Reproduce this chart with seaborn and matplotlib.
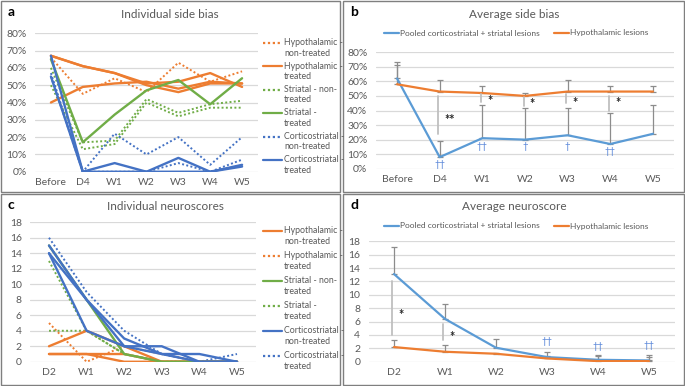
import matplotlib
matplotlib.use("Agg")
import matplotlib.pyplot as plt
from matplotlib.lines import Line2D
from matplotlib.patches import Rectangle
import seaborn as sns
import numpy as np

sns.set_style("white")
plt.rcParams['font.family'] = ['Lato', 'DejaVu Sans']

ORANGE = '#ED7D31'
GREEN = '#70AD47'
BLUE = '#4472C4'
LBLUE = '#5B9BD5'
GRID = '#D9D9D9'
TXT = '#595959'
DOT = (0, (1, 1.2))

# ---- data -------------------------------------------------------------
bias_days = ['Before', 'D4', 'W1', 'W2', 'W3', 'W4', 'W5']
hyp_nt_bias = [[66, 45, 54, 46, 63, 52, 58]]
hyp_t_bias = [[67, 61, 57, 50, 46, 51, 51],
              [40, 49, 51, 52, 48, 52, 51],
              [67, 61, 57, 51, 52, 57, 49]]
str_nt_bias = [[60, 17, 18, 42, 34, 39, 41],
               [50, 13, 16, 40, 32, 37, 37]]
str_t_bias = [[65, 17, 33, 47, 53, 39, 54]]
cs_nt_bias = [[57, 0, 22, 10, 20, 4, 20],
              [55, 0, 0, 0, 5, 0, 7]]
cs_t_bias = [[67, 0, 5, 0, 8, 0, 4],
             [55, 0, 0, 0, 0, 0, 3]]

pooled_bias = [62, 8, 21, 20, 23, 17, 24]
pooled_bias_top = [73, 19, 44, 42, 42, 38, 44]
hyp_bias = [58, 53, 52, 50, 53, 53, 53]
hyp_bias_top = [71, 61, 57, 52, 61, 57, 57]
bias_sig = {'D4': (24, 50, '**', 35), 'W1': (46, 51, '*', 48),
            'W2': (43, 49, '*', 46), 'W3': (45, 51, '*', 47),
            'W4': (40, 50, '*', 47)}
bias_dagger = {'D4': ('††', 3), 'W1': ('††', 15), 'W2': ('†', 15),
               'W3': ('†', 15), 'W4': ('††', 12)}

neuro_days = ['D2', 'W1', 'W2', 'W3', 'W4', 'W5']
hyp_nt_neuro = [[2, 4, 2, 0, 0, 0],
                [1, 1, 1, 0, 0, 0],
                [1, 1, 0, 0, 0, 0]]
hyp_t_neuro = [[5, 0, 2, 1, 0, 0]]
str_nt_neuro = [[15, 8, 1, 0, 0, 0]]
str_t_neuro = [[13, 4, 1, 0, 0, 0],
               [4, 4, 1, 0, 0, 0]]
cs_nt_neuro = [[15, 8, 3, 1, 0, 0],
               [14, 4, 2, 2, 0, 0],
               [14, 8, 2, 1, 1, 0]]
cs_t_neuro = [[16, 9, 4, 1, 0, 1]]

pooled_neuro = [13.1, 6.4, 2.1, 0.7, 0.3, 0.2]
pooled_neuro_top = [17.2, 8.7, 3.4, 1.5, 1.0, 1.0]
hyp_neuro = [2.2, 1.5, 1.2, 0.5, 0.1, 0.1]
hyp_neuro_top = [3.2, 2.5, 1.3, 0.9, 0.8, 0.7]
neuro_sig = {'D2': (4, 12, '*', 7.3), 'W1': (3.2, 5.6, '*', 4.1)}
neuro_dagger = {'W3': ('††', 3.0), 'W4': ('††', 2.3), 'W5': ('††', 2.4)}

W, H = 685, 386
fig = plt.figure(figsize=(W / 100, H / 100), dpi=100)


def px_axes(left, right, top, bottom):
    return fig.add_axes([left / W, 1 - bottom / H, (right - left) / W, (bottom - top) / H])


def style(ax, labels, ymax, step, pct):
    n = len(labels)
    ax.set_xlim(-0.5, n - 0.5)
    ax.set_ylim(-0.15 * step / 10, ymax + 0.15 * step / 10)
    ticks = np.arange(0, ymax + step / 2, step)
    ax.set_yticks(ticks)
    ax.set_yticklabels([f'{int(t)}%' if pct else f'{int(t)}' for t in ticks])
    ax.set_xticks(range(n))
    ax.set_xticklabels(labels)
    ax.grid(axis='y', color=GRID, lw=0.9)
    ax.grid(axis='x', visible=False)
    ax.set_axisbelow(True)
    for s in ax.spines.values():
        s.set_visible(False)
    ax.tick_params(length=0, colors=TXT, labelsize=7.5, pad=4)
    ax.tick_params(axis='y', pad=6)


def draw_groups(ax, days, groups):
    x = np.arange(len(days))
    for series, color, ls in groups:
        for vals in series:
            sns.lineplot(x=x, y=vals, ax=ax, color=color, lw=1.7 if ls == '-' else 1.4,
                         linestyle=ls, legend=False)


def side_legend(entries, x0, y0, dy):
    for i, (label, color, ls) in enumerate(entries):
        y = y0 + i * dy
        fig.add_artist(Line2D([x0 / W, (x0 + 19) / W], [1 - y / H, 1 - y / H],
                              color=color, lw=1.6, linestyle=ls))
        fig.text((x0 + 21) / W, 1 - (y + 5) / H, label, fontsize=6.3, color=TXT,
                 va='center', ha='left', linespacing=1.2)


def top_legend(ax_y, items):
    for x0, label, color in items:
        fig.add_artist(Line2D([x0 / W, (x0 + 15) / W], [1 - ax_y / H, 1 - ax_y / H],
                              color=color, lw=1.6))
        fig.text((x0 + 16) / W, 1 - ax_y / H, label, fontsize=6.0, color=TXT,
                 va='center', ha='left')


def annotate(ax, days, sig, dagger, dag_color):
    for d, (lo, hi, star, sy) in sig.items():
        i = days.index(d)
        ax.plot([i - 0.03, i - 0.03], [lo, hi], color='#BFBFBF', lw=1.3)
        ax.annotate(star, (i, sy), xytext=(3.5, -4.5), textcoords='offset points',
                    fontsize=9, fontweight='bold', color='#262626', ha='left', va='baseline')
    for d, (sym, sy) in dagger.items():
        i = days.index(d)
        ax.text(i, sy, sym, fontsize=7, color=dag_color, ha='center', va='center')


# ---- panel a ----------------------------------------------------------
ax_a = px_axes(35, 258, 33, 172)
draw_groups(ax_a, bias_days, [
    (hyp_nt_bias, ORANGE, DOT), (str_nt_bias, GREEN, DOT), (cs_nt_bias, BLUE, DOT),
    (hyp_t_bias, ORANGE, '-'), (str_t_bias, GREEN, '-'), (cs_t_bias, BLUE, '-')])
style(ax_a, bias_days, 80, 10, True)
side_legend([('Hypothalamic -\nnon-treated', ORANGE, DOT),
             ('Hypothalamic -\ntreated', ORANGE, '-'),
             ('Striatal - non-\ntreated', GREEN, DOT),
             ('Striatal -\ntreated', GREEN, '-'),
             ('Corticostriatal -\nnon-treated', BLUE, DOT),
             ('Corticostriatal -\ntreated', BLUE, '-')], 263, 43, 23.4)

# ---- panel b ----------------------------------------------------------
ax_b = px_axes(375.7, 674.3, 52, 169)
xb = np.arange(len(bias_days))
ax_b.errorbar(xb, pooled_bias, yerr=[np.zeros(len(xb)), np.subtract(pooled_bias_top, pooled_bias)],
              fmt='none', ecolor='#8C8C8C', elinewidth=0.9, capsize=2.5, capthick=0.9)
ax_b.errorbar(xb, hyp_bias, yerr=[np.zeros(len(xb)), np.subtract(hyp_bias_top, hyp_bias)],
              fmt='none', ecolor='#8C8C8C', elinewidth=0.9, capsize=2.5, capthick=0.9)
sns.lineplot(x=xb, y=pooled_bias, ax=ax_b, color=LBLUE, lw=1.6)
sns.lineplot(x=xb, y=hyp_bias, ax=ax_b, color=ORANGE, lw=1.6)
annotate(ax_b, bias_days, bias_sig, bias_dagger, '#4F7FD6')
style(ax_b, bias_days, 80, 10, True)
top_legend(33, [(384, 'Pooled corticostriatal + striatal lesions', LBLUE),
                (554, 'Hypothalamic lesions', ORANGE)])

# ---- panel c ----------------------------------------------------------
ax_c = px_axes(30.2, 255.8, 222, 362)
draw_groups(ax_c, neuro_days, [
    (hyp_t_neuro, ORANGE, DOT), (str_t_neuro, GREEN, DOT), (cs_t_neuro, BLUE, DOT),
    (hyp_nt_neuro, ORANGE, '-'), (str_nt_neuro, GREEN, '-'), (cs_nt_neuro, BLUE, '-')])
style(ax_c, neuro_days, 18, 2, False)
side_legend([('Hypothalamic -\nnon-treated', ORANGE, '-'),
             ('Hypothalamic -\ntreated', ORANGE, DOT),
             ('Striatal - non-\ntreated', GREEN, '-'),
             ('Striatal -\ntreated', GREEN, DOT),
             ('Corticostriatal -\nnon-treated', BLUE, '-'),
             ('Corticostriatal -\ntreated', BLUE, DOT)], 263, 231, 25)

# ---- panel d ----------------------------------------------------------
ax_d = px_axes(368.5, 674.5, 241, 362)
xd = np.arange(len(neuro_days))
ax_d.errorbar(xd, pooled_neuro, yerr=[np.zeros(len(xd)), np.subtract(pooled_neuro_top, pooled_neuro)],
              fmt='none', ecolor='#8C8C8C', elinewidth=0.9, capsize=2.5, capthick=0.9)
ax_d.errorbar(xd, hyp_neuro, yerr=[np.zeros(len(xd)), np.subtract(hyp_neuro_top, hyp_neuro)],
              fmt='none', ecolor='#8C8C8C', elinewidth=0.9, capsize=2.5, capthick=0.9)
sns.lineplot(x=xd, y=pooled_neuro, ax=ax_d, color=LBLUE, lw=1.6)
sns.lineplot(x=xd, y=hyp_neuro, ax=ax_d, color=ORANGE, lw=1.6)
annotate(ax_d, neuro_days, neuro_sig, neuro_dagger, '#4F7FD6')
style(ax_d, neuro_days, 18, 2, False)
top_legend(226, [(384, 'Pooled corticostriatal + striatal lesions', LBLUE),
                 (554, 'Hypothalamic lesions', ORANGE)])

# ---- titles, letters, frames -------------------------------------------
for cx, cy, title in [(170, 15, 'Individual side bias'), (514, 15, 'Average side bias'),
                      (165, 206, 'Individual neuroscores'), (514, 206, 'Average neuroscore')]:
    fig.text(cx / W, 1 - cy / H, title, fontsize=8.5, color=TXT, ha='center', va='center')
for lx, ly, letter in [(8, 12, 'a'), (350, 12, 'b'), (8, 205, 'c'), (350, 205, 'd')]:
    fig.text(lx / W, 1 - ly / H, letter, fontsize=10, fontweight='bold', color='black',
             ha='left', va='center')
for x0, y0, x1, y1 in [(1, 1, 340, 192), (343, 1, 684, 192), (1, 194, 340, 385), (343, 194, 684, 385)]:
    fig.add_artist(Rectangle((x0 / W, 1 - y1 / H), (x1 - x0) / W, (y1 - y0) / H,
                             transform=fig.transFigure, fill=False, edgecolor='#7F7F7F', lw=1))

fig.savefig('out.png', dpi=100)
